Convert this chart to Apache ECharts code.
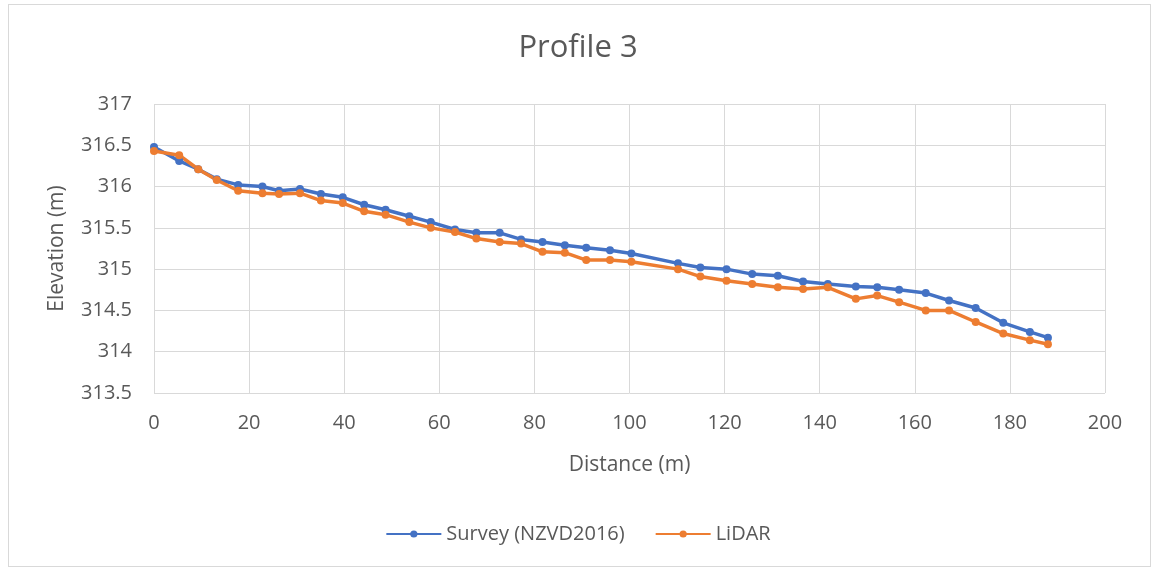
<!DOCTYPE html>
<html>
<head>
<meta charset="utf-8">
<script src="https://cdn.jsdelivr.net/npm/echarts@6/dist/echarts.min.js"></script>
<style>
  html, body { margin: 0; padding: 0; background: #fff; }
  .frame { position: absolute; left: 8px; top: 4px; width: 1141px; height: 561px; border: 1px solid #d9d9d9; }
  #chart { position: absolute; left: 0; top: 0; width: 1156px; height: 571px; }
</style>
</head>
<body>
<div class="frame"></div>
<div id="chart"></div>
<script>
// distances (m), shared by both series
const distance = [0, 5.3, 9.3, 13.2, 17.7, 22.8, 26.3, 30.7, 35.1, 39.7, 44.2, 48.7, 53.7, 58.2,
  63.3, 67.8, 72.7, 77.2, 81.7, 86.4, 90.9, 95.9, 100.4, 110.2, 114.9, 120.4, 125.8, 131.2,
  136.5, 141.7, 147.6, 152.1, 156.7, 162.3, 167.2, 172.8, 178.6, 184.2, 188]
const survey = [316.48, 316.31, 316.21, 316.09, 316.02, 316.0, 315.95, 315.97, 315.91, 315.87,
  315.78, 315.72, 315.64, 315.57, 315.48, 315.44, 315.44, 315.36, 315.33, 315.29, 315.26,
  315.23, 315.19, 315.07, 315.02, 315.0, 314.94, 314.92, 314.85, 314.82, 314.79, 314.78,
  314.75, 314.71, 314.62, 314.53, 314.35, 314.24, 314.17]
const lidar = [316.43, 316.38, 316.21, 316.08, 315.95, 315.92, 315.91, 315.92, 315.83, 315.80,
  315.70, 315.66, 315.57, 315.50, 315.45, 315.37, 315.33, 315.31, 315.21, 315.20, 315.11,
  315.11, 315.09, 315.0, 314.91, 314.86, 314.82, 314.78, 314.76, 314.78, 314.64, 314.68,
  314.60, 314.50, 314.50, 314.36, 314.22, 314.14, 314.09]

const txt = '#595959'
const font = '"Open Sans", sans-serif'

const chart = echarts.init(document.getElementById('chart'))
chart.setOption({
  animation: false,
  textStyle: { fontFamily: font },
  title: {
    text: 'Profile 3',
    left: 'center',
    top: 28,
    textStyle: { fontSize: 31, fontWeight: 'normal', color: txt, fontFamily: font }
  },
  legend: {
    bottom: 22,
    left: 'center',
    itemWidth: 55,
    itemHeight: 9,
    itemGap: 30,
    textStyle: { fontSize: 20, color: txt },
    data: ['Survey (NZVD2016)', 'LiDAR']
  },
  grid: { left: 154, right: 51, top: 104, bottom: 178 },
  xAxis: {
    type: 'value',
    min: 0,
    max: 200,
    interval: 20,
    name: 'Distance (m)',
    nameLocation: 'middle',
    nameGap: 62,
    nameTextStyle: { fontSize: 21, color: txt },
    axisLine: { show: false },
    axisTick: { show: false },
    axisLabel: { fontSize: 20, color: txt, margin: 20 },
    splitLine: { lineStyle: { color: '#d9d9d9', width: 1 } }
  },
  yAxis: {
    type: 'value',
    min: 313.5,
    max: 317,
    interval: 0.5,
    name: 'Elevation (m)',
    nameLocation: 'middle',
    nameGap: 86,
    nameTextStyle: { fontSize: 21, color: txt },
    axisLine: { show: false },
    axisTick: { show: false },
    axisLabel: { fontSize: 20, color: txt, margin: 22 },
    splitLine: { lineStyle: { color: '#d9d9d9', width: 1 } }
  },
  series: [
    {
      name: 'Survey (NZVD2016)',
      type: 'line',
      data: distance.map((d, i) => [d, survey[i]]),
      symbol: 'circle',
      symbolSize: 8,
      lineStyle: { color: '#4472C4', width: 3.5 },
      itemStyle: { color: '#4472C4' }
    },
    {
      name: 'LiDAR',
      type: 'line',
      data: distance.map((d, i) => [d, lidar[i]]),
      symbol: 'circle',
      symbolSize: 8,
      lineStyle: { color: '#ED7D31', width: 3.5 },
      itemStyle: { color: '#ED7D31' }
    }
  ]
})
</script>
</body>
</html>
